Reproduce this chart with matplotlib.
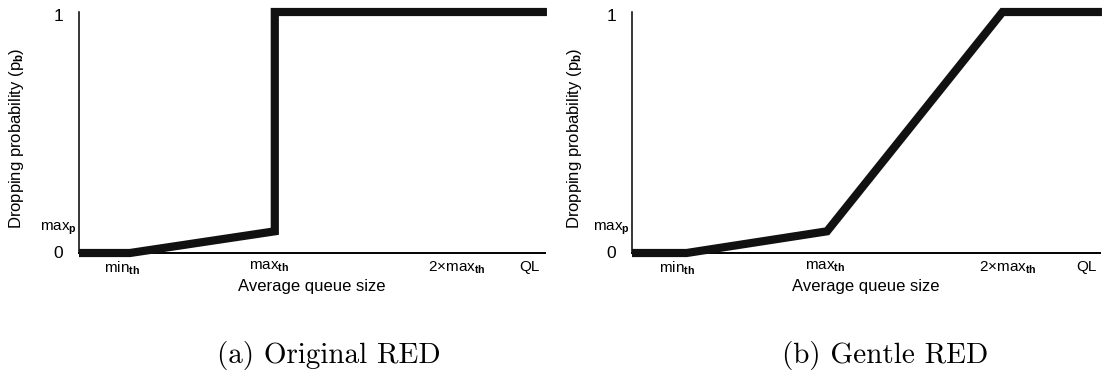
import matplotlib
matplotlib.use("Agg")
import matplotlib.pyplot as plt

plt.rcParams["font.family"] = ["Liberation Sans", "DejaVu Sans"]
plt.rcParams["mathtext.fontset"] = "custom"
plt.rcParams["mathtext.rm"] = "Liberation Sans"
plt.rcParams["mathtext.it"] = "Liberation Sans"
plt.rcParams["mathtext.bf"] = "Liberation Sans:bold"

# drop probability curves, x in units of max_th
red_x = [0, 0.26, 1.0, 1.0, 2.39]
red_y = [0, 0, 0.09, 1, 1]
gentle_x = [0, 0.28, 1.0, 1.9, 2.41]
gentle_y = [0, 0, 0.09, 1, 1]

# axis labels
x_labels = [r"min$_{\mathbf{th}}$", r"max$_{\mathbf{th}}$",
            r"2$\times$max$_{\mathbf{th}}$", "QL"]
red_xticks = [0.22, 0.97, 1.93, 2.30]
gentle_xticks = [0.23, 0.99, 1.93, 2.33]
y_labels = ["0", r"max$_{\mathbf{p}}$", "1"]
y_ticks = [0, 0.09, 1]
captions = ["(a) Original RED", "(b) Gentle RED"]

W, H = 1103, 374
fig = plt.figure(figsize=(W / 100, H / 100), dpi=100)


def px_axes(x0, x1, ytop, ybot):
    return fig.add_axes([x0 / W, (H - ybot) / H, (x1 - x0) / W, (ybot - ytop) / H])


def draw_panel(ax, xs, ys, xticks, xmax, ylab_x, cap_x, caption):
    ax.plot(xs, ys, color="#111111", lw=5.9, solid_capstyle="butt",
            solid_joinstyle="miter", clip_on=False, zorder=3)
    ax.set_xlim(0, xmax)
    ax.set_ylim(0, 1)
    for s in ["top", "right"]:
        ax.spines[s].set_visible(False)
    ax.spines["left"].set_linewidth(1.1)
    ax.spines["bottom"].set_linewidth(1.4)
    ax.set_xticks(xticks)
    ax.set_xticklabels(x_labels, fontsize=11)
    ax.tick_params(axis="x", length=0, pad=5)
    ax.set_yticks([])
    # y tick labels placed by hand, max_p sits further left
    tr = ax.get_yaxis_transform()
    ax.text(-0.034, y_ticks[0], y_labels[0], transform=tr, ha="right",
            va="center", fontsize=12.5)
    ax.text(-0.004, y_ticks[1] + 0.012, y_labels[1], transform=tr, ha="right",
            va="center", fontsize=11)
    ax.text(-0.034, y_ticks[2] - 0.02, y_labels[2], transform=tr, ha="right",
            va="center", fontsize=12.5)
    ax.set_xlabel("Average queue size", fontsize=12, labelpad=1)
    fig.text(ylab_x / W, (H - 138) / H, r"Dropping probability (p$_{\mathbf{b}}$)",
             rotation=90, ha="center", va="center", fontsize=12)
    fig.text(cap_x / W, (H - 356) / H, caption, family="cmr10", fontsize=21,
             ha="center", va="center")


ax1 = px_axes(79, 545, 12, 253)
draw_panel(ax1, red_x, red_y, red_xticks, 2.38, 17, 329, captions[0])

ax2 = px_axes(632, 1100, 12, 253)
draw_panel(ax2, gentle_x, gentle_y, gentle_xticks, 2.40, 574, 885, captions[1])

fig.savefig("out.png", dpi=100)
